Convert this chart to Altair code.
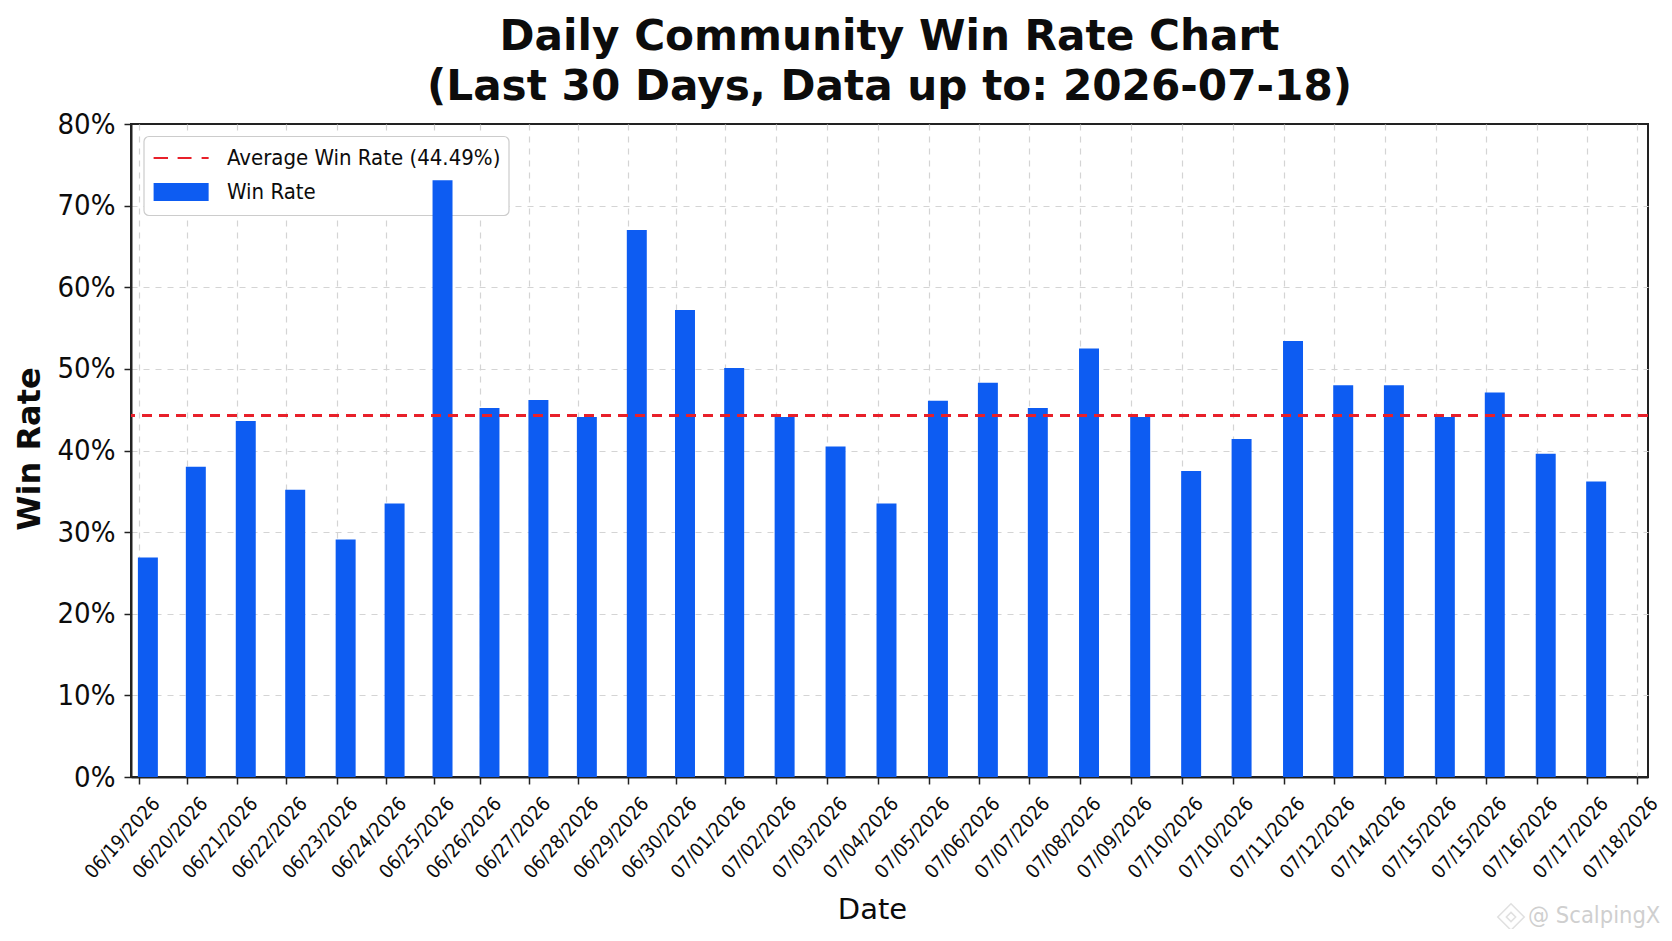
import json
import altair as alt
import pandas as pd

date_labels = ["06/19/2026","06/20/2026","06/21/2026","06/22/2026","06/23/2026","06/24/2026","06/25/2026","06/26/2026","06/27/2026","06/28/2026","06/29/2026","06/30/2026","07/01/2026","07/02/2026","07/03/2026","07/04/2026","07/05/2026","07/06/2026","07/07/2026","07/08/2026","07/09/2026","07/10/2026","07/10/2026","07/11/2026","07/12/2026","07/14/2026","07/15/2026","07/15/2026","07/16/2026","07/17/2026","07/18/2026"]
# elapsed position along the date axis
date_pos = [0,0.96,1.96,2.95,3.96,4.94,5.90,6.84,7.82,8.79,9.79,10.755,11.74,12.75,13.77,14.79,15.82,16.82,17.82,18.845,19.87,20.89,21.90,22.93,23.935,24.95,25.97,26.97,27.99,29.0,30.0]
win_rate = [26.9,38.0,43.6,35.2,29.1,33.5,73.1,45.2,46.2,44.1,67.0,57.2,50.1,44.1,40.5,33.5,46.1,48.3,45.2,52.5,44.1,37.5,41.4,53.4,48.0,48.0,44.1,47.1,39.6,36.2]
avg_level = 44.3
y_ticks = [0,10,20,30,40,50,60,70,80]
series_names = ["Average Win Rate (44.49%)", "Win Rate"]
title_lines = ["Daily Community Win Rate Chart", "(Last 30 Days, Data up to: 2026-07-18)"]

BLUE = "#0d5cf2"
RED = "#e8202a"
FONT = "DejaVu Sans"
COND = "DejaVu Sans Condensed"
INK = "#0c0c0c"

bars = pd.DataFrame({"start": [p - 0.02 for p in date_pos[:30]],
                     "end": [p + 0.38 for p in date_pos[:30]],
                     "rate": win_rate})

xscale = alt.Scale(domain=[-0.158, 30.218], nice=False, zero=False)
yscale = alt.Scale(domain=[0, 80], nice=False)

label_expr = f"{json.dumps(date_labels)}[indexof({json.dumps(date_pos)}, datum.value)]"

x_axis = alt.Axis(title="Date", values=date_pos, labelExpr=label_expr, labelAngle=312,
                  labelAlign="right", labelBaseline="middle", labelOffset=17, labelPadding=16,
                  labelFont=COND, labelFontSize=19.5, labelColor=INK, labelOverlap=False,
                  labelBound=False, labelFlush=False,
                  titleFont=FONT, titleFontSize=29, titleFontWeight="normal", titleColor=INK,
                  titleX=741, titleY=132, titleBaseline="middle", titleAlign="center",
                  tickSize=7, tickWidth=1.5, tickColor="#222222",
                  domainColor="#222222", domainWidth=2, grid=True, gridColor="#d4d4d4",
                  gridDash=[6, 6], gridWidth=1.2)
y_axis = alt.Axis(title="Win Rate", values=y_ticks, labelExpr="datum.value + '%'",
                  labelFont=COND, labelFontSize=29, labelColor=INK, labelPadding=9,
                  titleFont=FONT, titleFontSize=32, titleFontWeight="bold", titleColor=INK,
                  titlePadding=11, titleY=324.5, tickSize=7, tickWidth=1.5, tickColor="#222222",
                  domainColor="#222222", domainWidth=2, grid=True, gridColor="#d4d4d4",
                  gridDash=[6, 6], gridWidth=1.2,
                  gridOpacity={"condition": {"test": "datum.value == 80 || datum.value == 0", "value": 0}, "value": 1})

legend_box = alt.Chart(pd.DataFrame({"box": ["legend"]})).mark_rect(
    fill="white", stroke="#cccccc", strokeWidth=1.2, cornerRadius=5
).encode(x=alt.value(13), x2=alt.value(378), y=alt.value(12.5), y2=alt.value(91.5))

bar_layer = alt.Chart(bars).mark_bar(color=BLUE).encode(
    x=alt.X("start:Q", scale=xscale, axis=x_axis),
    x2="end:Q",
    y=alt.Y("rate:Q", scale=yscale, axis=y_axis, stack=None),
    y2=alt.Y2(datum=0),
)

avg_layer = alt.Chart(pd.DataFrame({"avg": [avg_level]})).mark_rule(
    color=RED, strokeDash=[10, 7], strokeWidth=3
).encode(y=alt.Y("avg:Q", scale=yscale))

dash_path = "M-0.9,-0.07H0V0.07H-0.9ZM0.6,-0.07H1.47V0.07H0.6ZM2.1,-0.07H2.54V0.07H2.1Z"
rect_path = "M-0.9,-0.56H2.54V0.56H-0.9Z"
legend_def = alt.Legend(title=None, orient="none", legendX=13, legendY=10,
                        padding=8,
                        symbolSize=1024, symbolStrokeWidth=0, symbolOpacity=1, rowPadding=7,
                        labelFont=COND, labelFontSize=22, labelColor=INK, labelOffset=43,
                        labelOpacity=1, labelLimit=500)
legend_layer = alt.Chart(pd.DataFrame({"series": series_names})).mark_point(
    filled=True, strokeWidth=0, size=0
).encode(
    x=alt.datum(0, scale=xscale),
    y=alt.datum(0, scale=yscale),
    color=alt.Color("series:N", scale=alt.Scale(domain=series_names, range=[RED, BLUE]), legend=legend_def),
    shape=alt.Shape("series:N", scale=alt.Scale(domain=series_names, range=[dash_path, rect_path]), legend=legend_def),
)

mark_text = alt.Chart(pd.DataFrame({"t": ["@ ScalpingX"]})).mark_text(
    font=COND, fontSize=23.5, color="#cfcfcf", align="left", baseline="middle", clip=False
).encode(text="t:N", x=alt.value(1397), y=alt.value(792))
mark_icon = alt.Chart(pd.DataFrame({"t": ["icon"]})).mark_point(
    shape="M0,-1L1,0L0,1L-1,0ZM0,-0.35L0.35,0L0,0.35L-0.35,0Z", size=700,
    color="#d4d4d4", strokeWidth=1.5, filled=False, clip=False
).encode(x=alt.value(1380), y=alt.value(793))

chart = alt.layer(legend_box, bar_layer, avg_layer, legend_layer, mark_icon, mark_text).resolve_scale(
    color="independent", shape="independent"
).properties(
    width=1517, height=653,
    view=alt.ViewConfig(stroke="#222222", strokeWidth=2),
    title=alt.TitleParams(text=title_lines, font=FONT, fontSize=42.2, fontWeight="bold", color=INK,
                          anchor="middle", lineHeight=50, offset=1),
    autosize=alt.AutoSizeParams(type="none"),
    padding={"left": 123, "top": 116, "right": 16, "bottom": 152},
).configure(background="white")

chart.save("out.html", embed_options={"renderer": "svg", "actions": False})
